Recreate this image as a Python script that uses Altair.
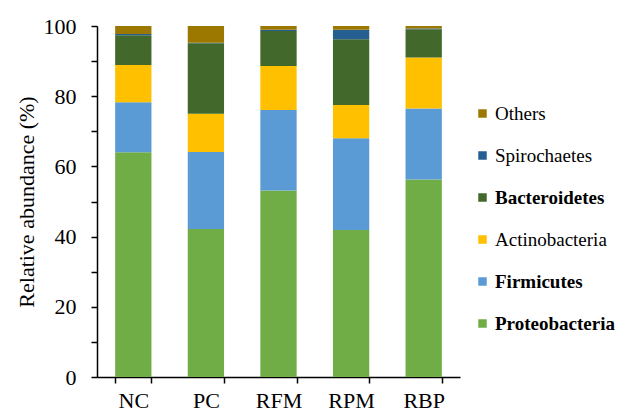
import altair as alt
import pandas as pd

groups = ["NC", "PC", "RFM", "RPM", "RBP"]
# phyla listed bottom-to-top in the stack
phyla = ["Proteobacteria", "Firmicutes", "Actinobacteria", "Bacteroidetes", "Spirochaetes", "Others"]
colors = ["#70AD47", "#5B9BD5", "#FFC000", "#43682B", "#255E91", "#9C7800"]
bold_phyla = ["Proteobacteria", "Firmicutes", "Bacteroidetes"]

proteobacteria = [64.0, 42.2, 53.1, 41.9, 56.3]
firmicutes = [14.3, 21.9, 23.0, 26.1, 20.2]
actinobacteria = [10.6, 10.9, 12.5, 9.5, 14.5]
bacteroidetes = [8.5, 20.1, 10.0, 18.7, 8.1]
spirochaetes = [0.3, 0.1, 0.3, 2.7, 0.2]
others = [2.3, 4.8, 1.1, 1.1, 0.7]

series = [proteobacteria, firmicutes, actinobacteria, bacteroidetes, spirochaetes, others]
rows = []
for k, (name, vals) in enumerate(zip(phyla, series)):
    for g, v in zip(groups, vals):
        rows.append({"group": g, "phylum": name, "value": v, "rank": k})
df = pd.DataFrame(rows)

legend_order = phyla[::-1]
legend_colors = colors[::-1]
bold_test = " || ".join(f"datum.label == '{p}'" for p in bold_phyla)

FONT = "'Liberation Serif', 'Times New Roman', serif"

chart = (
    alt.Chart(df)
    .mark_bar()
    .encode(
        x=alt.X(
            "group:N",
            sort=groups,
            scale=alt.Scale(paddingInner=0.5, paddingOuter=0.25),
            axis=alt.Axis(
                title=None,
                labelAngle=0,
                labelFont=FONT,
                labelFontSize=22,
                labelPadding=7,
                tickBand="extent",
                tickSize=6,
                domainColor="black",
                tickColor="black",
                labelColor="black",
                domainWidth=1.5,
                tickWidth=1.5,
            ),
        ),
        y=alt.Y(
            "value:Q",
            stack="zero",
            scale=alt.Scale(domain=[0, 100], nice=False),
            axis=alt.Axis(
                title="Relative abundance (%)",
                titleFont=FONT,
                titleFontSize=22,
                titleFontWeight="normal",
                titleColor="black",
                titlePadding=5,
                values=list(range(0, 101, 10)),
                labelExpr="datum.value % 20 == 0 ? datum.label : ''",
                labelFont=FONT,
                labelFontSize=22,
                labelColor="black",
                labelPadding=15,
                tickSize=6,
                grid=False,
                domainColor="black",
                tickColor="black",
                domainWidth=1.5,
                tickWidth=1.5,
            ),
        ),
        color=alt.Color(
            "phylum:N",
            scale=alt.Scale(domain=legend_order, range=legend_colors),
            legend=alt.Legend(
                title=None,
                orient="none",
                legendX=376,
                legendY=78,
                symbolType="square",
                symbolSize=72,
                symbolStrokeWidth=0,
                labelFont=FONT,
                labelFontSize=19,
                labelColor="black",
                labelOffset=3,
                rowPadding=22,
                labelFontWeight={"expr": f"({bold_test}) ? 'bold' : 'normal'"},
            ),
        ),
        order=alt.Order("rank:Q", sort="ascending"),
    )
    .properties(
        width=363,
        height=351,
        padding={"left": 97, "top": 26, "right": 167, "bottom": 37},
        autosize=alt.AutoSizeParams(type="none"),
    )
    .configure(font=FONT)
    .configure_view(stroke=None)
)

chart.save("out.html", embed_options={"renderer": "svg", "actions": False})
